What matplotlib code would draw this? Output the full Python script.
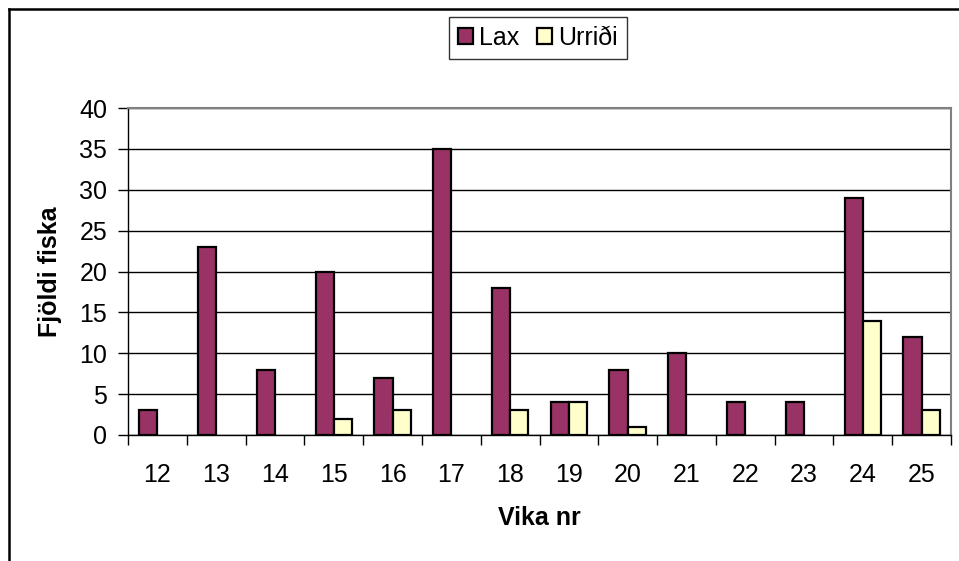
import numpy as np
import matplotlib.pyplot as plt
from matplotlib.lines import Line2D
from matplotlib.patches import Patch

plt.rcParams['font.family'] = ['Liberation Sans', 'DejaVu Sans']

weeks = ['12', '13', '14', '15', '16', '17', '18', '19', '20', '21', '22', '23', '24', '25']
lax = [3, 23, 8, 20, 7, 35, 18, 4, 8, 10, 4, 4, 29, 12]
urridi = [0, 0, 0, 2, 3, 0, 3, 4, 1, 0, 0, 0, 14, 3]

lax_col = '#993366'
urr_col = '#FFFFCC'

W, H = 959, 561
fig = plt.figure(figsize=(W / 100, H / 100), dpi=100)
ax = fig.add_axes([128 / W, (H - 435) / H, 823 / W, 327 / H])

x = np.arange(len(weeks))
w = 0.31
b1 = ax.bar(x - w / 2, lax, w, color=lax_col, edgecolor='black', linewidth=1.6, zorder=3)
b2 = ax.bar(x + w / 2, urridi, w, color=urr_col, edgecolor='black', linewidth=1.6, zorder=3)
# Excel draws nothing for empty values
for p in list(b1) + list(b2):
    if p.get_height() == 0:
        p.set_visible(False)

ax.set_xlim(-0.5, len(weeks) - 0.5)
ax.set_ylim(0, 40)
ax.set_yticks(range(0, 41, 5))
ax.yaxis.grid(True, color='black', linewidth=1)
ax.set_axisbelow(True)

# category boundaries as ticks, labels at centres
ax.set_xticks(np.arange(-0.5, len(weeks), 1))
ax.set_xticklabels([])
ax.set_xticks(x, minor=True)
ax.set_xticklabels(weeks, minor=True)
ax.tick_params(axis='x', which='major', direction='out', length=7, width=1)
ax.tick_params(axis='x', which='minor', length=0, pad=20, labelsize=18)
ax.tick_params(axis='y', direction='out', length=7, width=1, pad=8, labelsize=18)

for s in ['top', 'right']:
    ax.spines[s].set_color('#808080')
    ax.spines[s].set_linewidth(1.5)
for s in ['left', 'bottom']:
    ax.spines[s].set_color('black')
    ax.spines[s].set_linewidth(1)

ax.set_ylabel('Fjöldi fiska', fontsize=18, fontweight='bold', labelpad=12)
ax.set_xlabel('Vika nr', fontsize=18, fontweight='bold', labelpad=14)

handles = [Patch(facecolor=lax_col, edgecolor='black', linewidth=1.6, label='Lax'),
           Patch(facecolor=urr_col, edgecolor='black', linewidth=1.6, label='Urriði')]
leg = ax.legend(handles=handles, loc='center', bbox_to_anchor=(538 / W, 1 - 38 / H),
                bbox_transform=fig.transFigure,
                ncol=2, fontsize=18, frameon=True, fancybox=False, edgecolor='black',
                handlelength=0.6, handleheight=0.6, handletextpad=0.25, columnspacing=0.7,
                borderpad=0.35, borderaxespad=0)
leg.get_frame().set_linewidth(1)

# outer chart border (left and top)
fig.add_artist(Line2D([8.5 / W, 8.5 / W], [0, 1 - 9 / H], color='black', linewidth=1.8))
fig.add_artist(Line2D([8.5 / W, 1], [1 - 9 / H, 1 - 9 / H], color='black', linewidth=1.8))

fig.savefig('out.png', dpi=100)
